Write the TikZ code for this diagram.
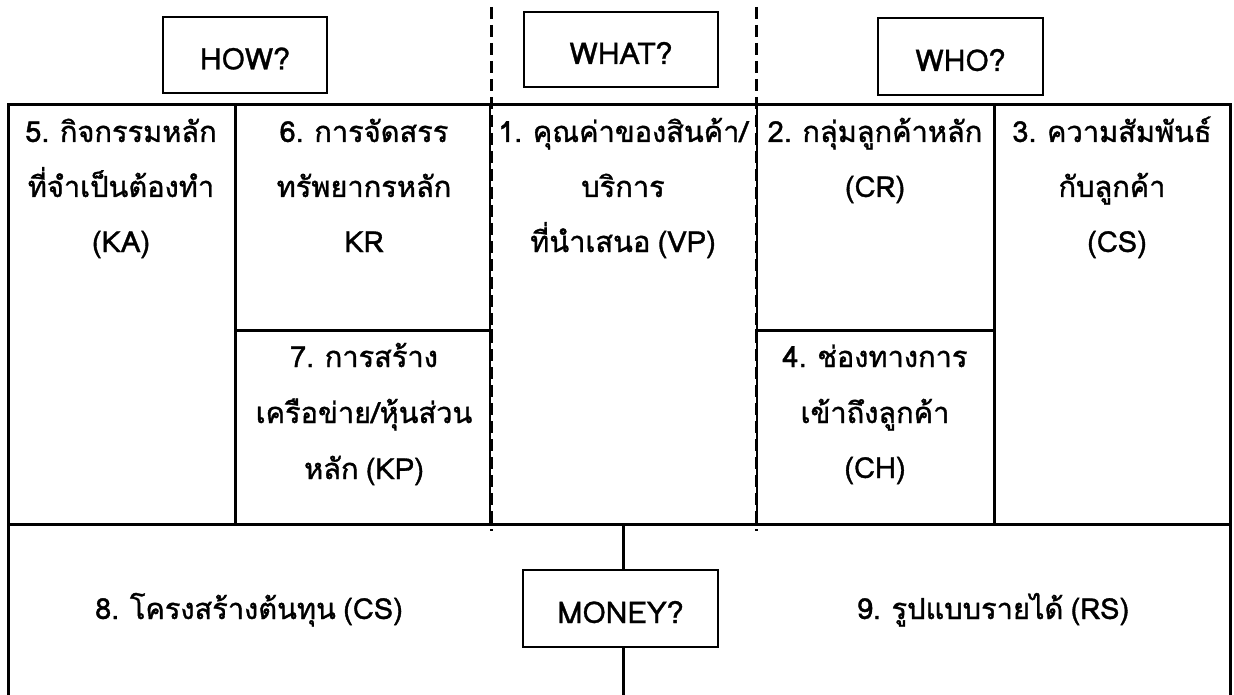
\documentclass[tikz,border=0pt]{standalone}
\usepackage{fontspec}
\setmainfont[Script=Thai, WordSpace=0.75]{Loma}
\newfontfamily\bodyfont[Script=Thai, WordSpace=0.75, UprightFeatures={FakeBold=1.2}]{Loma}
\newfontfamily\qfont[UprightFeatures={FakeBold=1}]{Loma}
\tikzset{
  frame/.style={line width=3pt, line cap=rect},
  divline/.style={line width=3pt, dash pattern=on 12pt off 6pt},
  qbox/.style={draw, line width=2.5pt, inner sep=0pt, text height=29pt, text depth=0pt,
    font=\qfont\fontsize{30}{30}\selectfont},
  body/.style={anchor=base, inner sep=0pt, font=\bodyfont\fontsize{29}{29}\selectfont},
}
\begin{document}
\begin{tikzpicture}[x=1pt,y=-1pt]
\useasboundingbox (0,0) rectangle (1234,695);
% grid coordinates
\coordinate (tl) at (8,105);
\coordinate (tr) at (1230,105);
\coordinate (bl) at (8,695);
\coordinate (br) at (1230,695);
\coordinate (ml) at (8,524);
\coordinate (mr) at (1230,524);
% outer frame and grid
\draw[frame] (bl) -- (tl) -- (tr) -- (br);
\draw[frame] (ml) -- (mr);
\draw[frame] (235,105) -- (235,524);
\draw[frame] (994,105) -- (994,524);
\draw[frame] (235,330) -- (491,330);
\draw[frame] (756,330) -- (994,330);
\draw[line width=2pt] (490,105) -- (490,524);
\draw[line width=2pt] (757,105) -- (757,524);
% dashed dividers
\draw[divline] (491,7) -- (491,531);
\draw[divline] (756,7) -- (756,531);
% question boxes
\node[qbox, minimum width=164pt, minimum height=76pt] (how) at (245,55) {HOW?};
\node[qbox, minimum width=194pt, minimum height=75pt] (what) at (621,49.5) {WHAT?};
\node[qbox, minimum width=165pt, minimum height=77pt] (who) at (960.5,56.5) {WHO?};
\node[qbox, minimum width=195pt, minimum height=77pt] (money) at (620.5,608.5) {MONEY?};
\coordinate (mtop) at (623,524);
\coordinate (mbot) at (623,695);
\draw[frame] (mtop) -- (money.north -| mtop);
\draw[frame] (money.south -| mbot) -- (mbot);
% block 5
\node[body] (t5a) at (121,142) {5. กิจกรรมหลัก};
\node[body] (t5b) at (121,197) {ที่จำเป็นต้องทำ};
\node[body] (t5c) at (121,252) {(KA)};
% block 6
\node[body] (t6a) at (364,142) {6. การจัดสรร};
\node[body] (t6b) at (364,197) {ทรัพยากรหลัก};
\node[body] (t6c) at (364,252) {KR};
% block 7
\node[body] (t7a) at (364,367) {7. การสร้าง};
\node[body] (t7b) at (364,423) {เครือข่าย/หุ้นส่วน};
\node[body] (t7c) at (364,479) {หลัก (KP)};
% block 1
\node[body] (t1a) at (623,142) {1. คุณค่าของสินค้า/};
\node[body] (t1b) at (623,197) {บริการ};
\node[body] (t1c) at (623,252) {ที่นำเสนอ (VP)};
% block 2
\node[body] (t2a) at (875,142) {2. กลุ่มลูกค้าหลัก};
\node[body] (t2b) at (875,197) {(CR)};
% block 3
\node[body] (t3a) at (1112,142) {3. ความสัมพันธ์};
\node[body] (t3b) at (1112,197) {กับลูกค้า};
\node[body] (t3c) at (1117,252) {(CS)};
% block 4
\node[body] (t4a) at (875,367) {4. ช่องทางการ};
\node[body] (t4b) at (875,423) {เข้าถึงลูกค้า};
\node[body] (t4c) at (875,478) {(CH)};
% bottom
\node[body] (t8) at (249,619) {8. โครงสร้างต้นทุน (CS)};
\node[body] (t9) at (993,619) {9. รูปแบบรายได้ (RS)};
\end{tikzpicture}
\end{document}
